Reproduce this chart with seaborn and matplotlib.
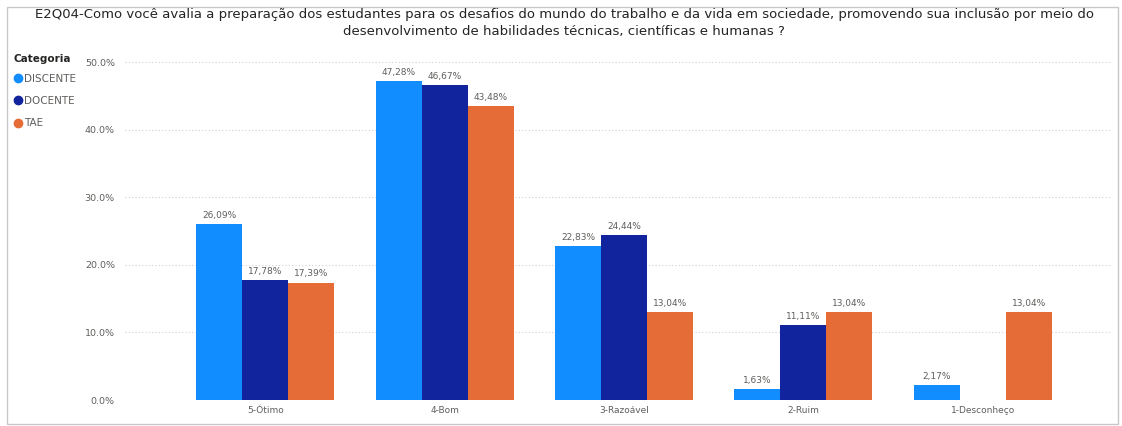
import matplotlib
matplotlib.use("Agg")
import matplotlib.pyplot as plt
from matplotlib.lines import Line2D
from matplotlib.patches import Rectangle
import seaborn as sns
import pandas as pd

# Response categories and the share (%) of each group choosing them
categories = ["5-Ótimo", "4-Bom", "3-Razoável", "2-Ruim", "1-Desconheço"]
groups = ["DISCENTE", "DOCENTE", "TAE"]
discente = [26.09, 47.28, 22.83, 1.63, 2.17]
docente = [17.78, 46.67, 24.44, 11.11, None]
tae = [17.39, 43.48, 13.04, 13.04, 13.04]
y_ticks = [0, 10, 20, 30, 40, 50]
colors = {"DISCENTE": "#118DFF", "DOCENTE": "#12239E", "TAE": "#E66C37"}

title = ("E2Q04-Como você avalia a preparação dos estudantes para os desafios do mundo do trabalho "
         "e da vida em sociedade, promovendo sua inclusão por meio do\n"
         "desenvolvimento de habilidades técnicas, científicas e humanas ?")

rows = []
for grp, vals in zip(groups, [discente, docente, tae]):
    for cat, v in zip(categories, vals):
        if v is not None:
            rows.append({"Resposta": cat, "Categoria": grp, "Percentual": v})
df = pd.DataFrame(rows)

sns.set_style("white")
plt.rcParams["font.family"] = ["DejaVu Sans"]

fig = plt.figure(figsize=(11.22, 4.26), dpi=100)
ax = fig.add_axes([0.111, 0.061, 0.88, 0.81])

sns.barplot(data=df, x="Resposta", y="Percentual", hue="Categoria",
            order=categories, hue_order=groups, palette=colors,
            width=0.77, saturation=1, errorbar=None, legend=False,
            linewidth=0, ax=ax)

for cont in ax.containers:
    ax.bar_label(cont, fmt=lambda v: f"{v:.2f}%".replace(".", ","),
                 padding=3, fontsize=6.5, color="#605E5C")

ax.set_ylim(0, 51.1)
ax.set_xlim(-0.785, 4.72)
ax.set_yticks(y_ticks)
ax.set_yticklabels([f"{t:.1f}%" for t in y_ticks], fontsize=6.8, color="#605E5C")
ax.tick_params(axis="y", length=0, pad=7)
ax.tick_params(axis="x", length=0, pad=4, labelsize=6.5, labelcolor="#605E5C")
ax.set_xlabel("")
ax.set_ylabel("")
ax.yaxis.grid(True, linestyle=(0, (1, 2)), color="#D0D0D0", linewidth=0.8)
ax.set_axisbelow(True)
for s in ax.spines.values():
    s.set_visible(False)

fig.text(0.503, 0.981, title, ha="center", va="top", fontsize=9.5,
         color="#252423", linespacing=1.4)

handles = [Line2D([0], [0], marker="o", linestyle="", markersize=6,
                  markerfacecolor=colors[g], markeredgecolor=colors[g]) for g in groups]
leg = fig.legend(handles, groups, title="Categoria", loc="upper left",
                 bbox_to_anchor=(0.008, 0.883), frameon=False, fontsize=7.5,
                 title_fontsize=7.5, handletextpad=0.05, handlelength=1.0,
                 labelspacing=1.18, borderaxespad=0, alignment="left")
leg._legend_box.sep = 7
leg.get_title().set_fontweight("bold")
leg.get_title().set_color("#252423")
for t in leg.get_texts():
    t.set_color("#605E5C")

# light frame around the visual
fig.add_artist(Rectangle((0.006, 0.005), 0.99, 0.978, transform=fig.transFigure,
                         fill=False, edgecolor="#C8C8C8", linewidth=1.0))

fig.savefig("out.png", dpi=100)
